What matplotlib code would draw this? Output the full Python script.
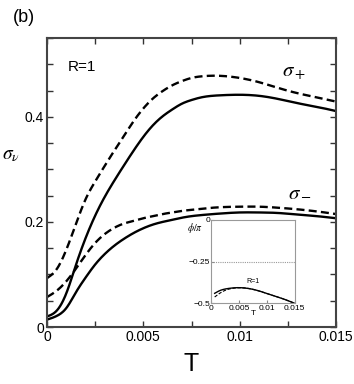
import numpy as np
import matplotlib
matplotlib.use("Agg")
import matplotlib.pyplot as plt

# common temperature grid for the main-panel curves
T_main = [0.0, 0.0005, 0.001, 0.0015, 0.002, 0.0025, 0.003, 0.0035, 0.004, 0.0045,
          0.005, 0.0055, 0.006, 0.0065, 0.007, 0.0075, 0.008, 0.009, 0.010, 0.011,
          0.012, 0.013, 0.014, 0.015]

# sigma_+ : solid and dashed
s_plus_solid = [0.020, 0.031, 0.064, 0.118, 0.169, 0.212, 0.248, 0.279, 0.308, 0.336,
                0.362, 0.384, 0.401, 0.414, 0.425, 0.432, 0.437, 0.441, 0.442, 0.440,
                0.434, 0.426, 0.419, 0.411]
s_plus_dash = [0.093, 0.110, 0.147, 0.196, 0.243, 0.277, 0.307, 0.336, 0.364, 0.392,
               0.416, 0.435, 0.449, 0.460, 0.468, 0.474, 0.477, 0.478, 0.474, 0.466,
               0.455, 0.445, 0.437, 0.429]

# sigma_- : solid and dashed
s_minus_solid = [0.014, 0.021, 0.036, 0.066, 0.094, 0.119, 0.139, 0.155, 0.168, 0.179,
                 0.188, 0.195, 0.200, 0.204, 0.208, 0.211, 0.213, 0.216, 0.218, 0.218,
                 0.217, 0.214, 0.211, 0.207]
s_minus_dash = [0.057, 0.069, 0.087, 0.111, 0.137, 0.160, 0.177, 0.189, 0.197, 0.202,
                0.207, 0.211, 0.215, 0.218, 0.221, 0.223, 0.225, 0.228, 0.229, 0.229,
                0.227, 0.224, 0.220, 0.215]

# inset: phase phi/pi
T_phi = [0.0006, 0.0015, 0.0025, 0.0035, 0.0048, 0.006, 0.0072, 0.009, 0.0108,
         0.013, 0.015]
phi_solid = [-0.440, -0.424, -0.414, -0.409, -0.406, -0.408, -0.414, -0.430, -0.450,
             -0.474, -0.500]
phi_dash = [-0.462, -0.440, -0.422, -0.412, -0.407, -0.408, -0.414, -0.430, -0.450,
            -0.474, -0.500]

SERIF = ["Liberation Serif", "DejaVu Serif"]


def smooth(x, y, n=400):
    """Natural cubic spline through the read-off points."""
    x = np.asarray(x, float)
    y = np.asarray(y, float)
    N = len(x)
    h = np.diff(x)
    A = np.zeros((N, N))
    b = np.zeros(N)
    A[0, 0] = A[-1, -1] = 1.0
    for i in range(1, N - 1):
        A[i, i - 1] = h[i - 1]
        A[i, i] = 2 * (h[i - 1] + h[i])
        A[i, i + 1] = h[i]
        b[i] = 6 * ((y[i + 1] - y[i]) / h[i] - (y[i] - y[i - 1]) / h[i - 1])
    M = np.linalg.solve(A, b)
    xs = np.linspace(x[0], x[-1], n)
    k = np.clip(np.searchsorted(x, xs) - 1, 0, N - 2)
    a = x[k + 1] - xs
    c = xs - x[k]
    hk = h[k]
    ys = (M[k] * a**3 / (6 * hk) + M[k + 1] * c**3 / (6 * hk)
          + (y[k] / hk - M[k] * hk / 6) * a + (y[k + 1] / hk - M[k + 1] * hk / 6) * c)
    return xs, ys


plt.rcParams["font.family"] = ["Liberation Sans", "DejaVu Sans"]

fig = plt.figure(figsize=(3.54, 3.84), dpi=100)
ax = fig.add_axes([0.1328, 0.1484, 0.8164, 0.7526])

lw = 1.7
dash = (0, (3.4, 1.8))
ax.plot(*smooth(T_main, s_plus_solid), color="black", lw=lw)
ax.plot(*smooth(T_main, s_plus_dash), color="black", lw=lw, ls=dash)
ax.plot(*smooth(T_main, s_minus_solid), color="black", lw=lw)
ax.plot(*smooth(T_main, s_minus_dash), color="black", lw=lw, ls=dash)

ax.set_xlim(0, 0.015)
ax.set_ylim(0, 0.55)
xt = np.arange(0, 0.01501, 0.0025)
ax.set_xticks(xt)
ax.set_xticklabels(["0", "", "0.005", "", "0.01", "", "0.015"])
yt = np.arange(0, 0.551, 0.05)
ax.set_yticks(yt)
ax.set_yticklabels(["0" if i == 0 else ("0.2" if i == 4 else ("0.4" if i == 8 else ""))
                    for i in range(len(yt))])
ax.tick_params(direction="in", top=True, right=True, length=4, width=1,
               labelsize=10, pad=2, color="#333333")
for spine in ax.spines.values():
    spine.set_linewidth(1.5)
    spine.set_edgecolor("#444444")

ax.set_xlabel("T", fontsize=18, labelpad=6)
fig.text(0.005, 0.595, r"$\sigma_\nu$", fontsize=14, family=SERIF, ha="left", va="center",
         math_fontfamily="stix")
fig.text(0.035, 0.955, "(b)", fontsize=13, ha="left", va="center")
ax.text(0.0011, 0.495, "R=1", fontsize=11, ha="left", va="center")
ax.text(0.0122, 0.484, r"$\sigma_+$", fontsize=15, ha="left", va="center",
        math_fontfamily="stix")
ax.text(0.0125, 0.257, r"$\sigma_-$", fontsize=15, ha="left", va="center",
        math_fontfamily="stix")

# inset
ins = fig.add_axes([0.597, 0.2101, 0.2353, 0.2170])
ins.plot(*smooth(T_phi, phi_solid), color="black", lw=1.0)
ins.plot(*smooth(T_phi, phi_dash), color="black", lw=0.8, ls=(0, (3, 1.5)))
ins.axhline(-0.25, color="#999999", lw=0.8, ls=(0, (1, 1)))
ins.set_xlim(0, 0.015)
ins.set_ylim(-0.5, 0)
ins.set_xticks([0, 0.005, 0.01, 0.015])
ins.set_xticklabels(["0", "0.005", "0.01", "0.015"])
ins.set_yticks([-0.5, -0.25, 0])
ins.set_yticklabels(["\u22120.5", "\u22120.25", "0"])
ins.tick_params(direction="in", labelsize=6, length=2, pad=1, color="#888888")
for spine in ins.spines.values():
    spine.set_linewidth(0.8)
    spine.set_edgecolor("#999999")
ins.set_xlabel("T", fontsize=6, labelpad=-1)
ins.set_ylabel(r"$\phi/\pi$", fontsize=7, rotation=0, math_fontfamily="stix")
ins.yaxis.set_label_coords(-0.2, 0.82)
ins.text(0.0063, -0.37, "R=1", fontsize=5, ha="left", va="center")

fig.savefig("out.png", dpi=100)
